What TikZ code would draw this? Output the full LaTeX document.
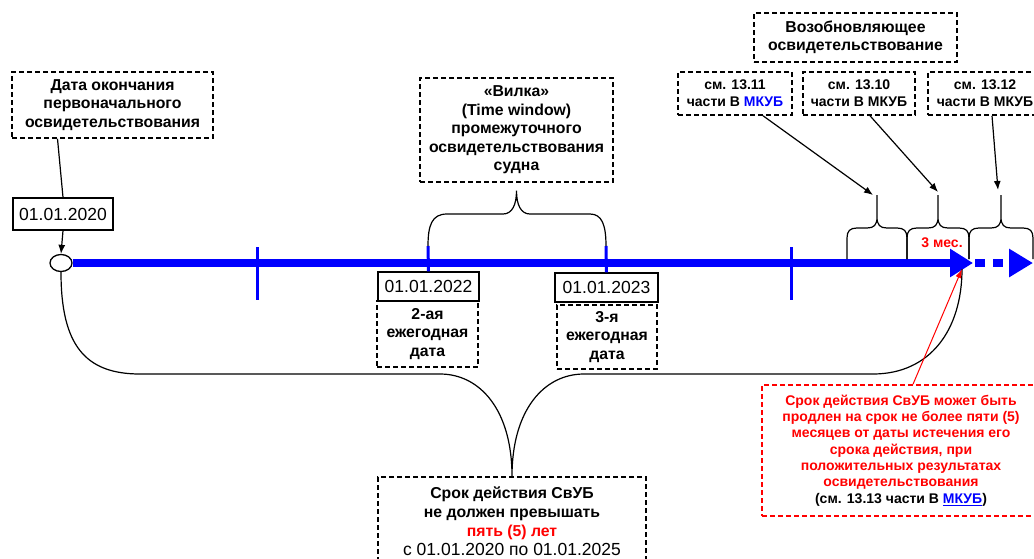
\documentclass[tikz,border=0pt]{standalone}
\usepackage{fontspec}
\setmainfont{Liberation Sans}
\usetikzlibrary{arrows.meta,shapes.geometric}

\begin{document}
\begin{tikzpicture}[x=1pt,y=-1pt,
  dbox/.style={draw, dash pattern=on 5pt off 3pt, line width=1.5pt, inner sep=0pt, align=center,
    font=\bfseries\fontsize{15.8}{18.5}\selectfont},
  refbox/.style={dbox, font=\bfseries\fontsize{14}{17}\selectfont},
  datebox/.style={draw, line width=1.4pt, inner sep=0pt, font=\fontsize{17.5}{20}\selectfont},
  thinline/.style={line width=1.2pt},
  blueTick/.style={blue, line width=3pt},
  pointer/.style={thinline, -{Latex[length=9pt,width=7pt]}}]
\useasboundingbox (0,0) rectangle (1034,558);

% boxes
\node[dbox, minimum width=201pt, minimum height=66pt] (nachalo) at (112.5,105)
  {Дата окончания\\первоначального\\освидетельствования};
\node[datebox, minimum width=100pt, minimum height=32pt] (d2020) at (63,214) {01.01.2020};
\node[dbox, minimum width=193pt, minimum height=104pt] (vilka) at (516.5,130)
  {«Вилка»\\(Time window)\\промежуточного\\освидетельствования\\судна};
\node[dbox, minimum width=203pt, minimum height=49pt] (vozob) at (855.5,37.5)
  {Возобновляющее\\освидетельствование};
\node[refbox, minimum width=114pt, minimum height=43pt] (s1311) at (735,93.5)
  {см. 13.11\\части В \textcolor{blue}{МКУБ}};
\node[refbox, minimum width=112pt, minimum height=43pt] (s1310) at (859,93.5)
  {см. 13.10\\части В МКУБ};
\node[refbox, minimum width=114pt, minimum height=43pt] (s1312) at (985,93.5)
  {см. 13.12\\части В МКУБ};

\node[datebox, minimum width=101pt, minimum height=29pt] (d2022) at (428.5,286.5) {01.01.2022};
\node[dbox, minimum width=101pt, minimum height=66pt] (god2) at (427.5,334)
  {2-ая\\ежегодная\\дата};
\node[datebox, minimum width=103pt, minimum height=29pt] (d2023) at (606.5,287.5) {01.01.2023};
\node[dbox, minimum width=100pt, minimum height=64pt] (god3) at (607,337)
  {3-я\\ежегодная\\дата};

\node[dbox, minimum width=268pt, minimum height=88pt, font=\bfseries\fontsize{15.8}{19}\selectfont] (srok) at (512,521)
  {Срок действия СвУБ\\не должен превышать\\\textcolor{red}{пять (5) лет}\\{\mdseries\fontsize{17.5}{19}\selectfont с 01.01.2020 по 01.01.2025}};
\node[dbox, draw=red, text=red, minimum width=278pt, minimum height=131pt,
  font=\bfseries\fontsize{14}{16.3}\selectfont] (prodlenie) at (901,450.5)
  {Срок действия СвУБ может быть\\продлен на срок не более пяти (5)\\месяцев от даты истечения его\\срока действия, при\\положительных результатах\\освидетельствования\\\textcolor{black}{(см. 13.13 части В \textcolor{blue}{\underline{МКУБ}})}};

% time line
\node[ellipse, draw, line width=1.3pt, fill=white, minimum width=22pt, minimum height=17pt, inner sep=0pt] (circ) at (61,263) {};
\coordinate (konec) at (973,263);
\coordinate (prodl) at (962,269);
\draw[blue, line width=8.5pt, -{Triangle[length=23pt,width=27pt]}] (circ.east) -- (konec);
\draw[blue, line width=8.5pt, dash pattern=on 10pt off 8pt, -{Triangle[length=24pt,width=27pt]}] ([xshift=2pt]konec) -- (1033,263);
\draw[blueTick] (257,247) -- (257,300);
\draw[blueTick] (791,247) -- (791,300);
\draw[blueTick] (428,246) -- (d2022.north);
\draw[blueTick] (606,246) -- (d2023.north);
\node[text=red, font=\bfseries\fontsize{14}{16}\selectfont] (tri) at (942,243) {3 мес.};

% braces
\coordinate (vtip) at ([yshift=-8pt]vilka.south);
\draw[thinline] (428,246) .. controls (428,225) and (432,214) .. (447,214) -- (503,214)
  .. controls (512,214) and (516.5,205) .. (vtip) .. controls (516.5,205) and (521,214) .. (530,214)
  -- (590,214) .. controls (602,214) and (606,225) .. (606,246);
\foreach \a/\b/\c/\n in {847/877/907/1, 907/938/969/2, 969/1001/1033/3}{
  \coordinate (tip\n) at (\b,195);
  \draw[thinline] (\a,259) -- (\a,238) .. controls (\a,231) and (\a+3,228) .. (\a+10,228)
    -- (\b-10,228) .. controls (\b-3,228) and (\b,225) .. (\b,217) -- (tip\n)
    (\b,217) .. controls (\b,225) and (\b+3,228) .. (\b+10,228)
    -- (\c-10,228) .. controls (\c-3,228) and (\c,231) .. (\c,238) -- (\c,259);
}
\draw[thinline] (circ.south) .. controls (61,345) and (85,374) .. (140,374) -- (440,374)
  .. controls (480,374) and (512,410) .. (srok.north) .. controls (512,410) and (544,374) .. (584,374)
  -- (873,374) .. controls (930,374) and (962,330) .. (prodl);

% arrows
\draw[thinline] ([xshift=-55pt]nachalo.south) -- (d2020.north);
\draw[pointer] (d2020.south) -- (circ.north);
\draw[pointer] ([xshift=28pt]s1311.south) -- ([xshift=-4pt]tip1);
\draw[pointer] ([xshift=11pt]s1310.south) -- ([yshift=3pt]tip2);
\draw[pointer] ([xshift=7pt]s1312.south) -- ([xshift=-3pt,yshift=5pt]tip3);
\draw[red, line width=1pt, -{Latex[length=9pt,width=6pt]}] ([xshift=12pt]prodlenie.north) -- (prodl);
\end{tikzpicture}
\end{document}
